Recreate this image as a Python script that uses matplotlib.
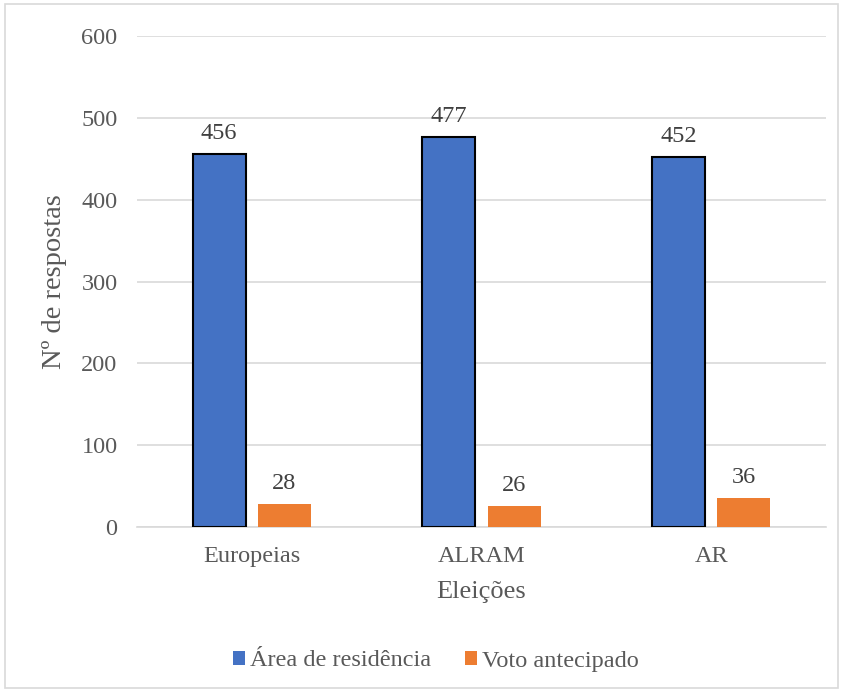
import matplotlib
matplotlib.use("Agg")
import matplotlib.pyplot as plt
import numpy as np
from matplotlib.patches import Rectangle

categories = ["Europeias", "ALRAM", "AR"]
area_residencia = [456, 477, 452]
voto_antecipado = [28, 26, 36]
series_names = ["Área de residência", "Voto antecipado"]
yticks = [0, 100, 200, 300, 400, 500, 600]

plt.rcParams['font.family'] = ['Liberation Serif', 'DejaVu Serif']
txt = '#595959'

fig = plt.figure(figsize=(8.44, 6.92), dpi=100)
ax = fig.add_axes([137/844, 1-527/692, (826-137)/844, (527-36)/692])

x = np.arange(len(categories))
w = 0.23
off = 0.142
b1 = ax.bar(x - off, area_residencia, w, color='#4472C4', edgecolor='black', linewidth=1.5, label=series_names[0], zorder=3)
b2 = ax.bar(x + off, voto_antecipado, w, color='#ED7D31', edgecolor='none', label=series_names[1], zorder=3)

for bars, vals in ((b1, area_residencia), (b2, voto_antecipado)):
    for r, v in zip(bars, vals):
        ax.annotate(str(v), (r.get_x() + r.get_width()/2, v), xytext=(0, 7), textcoords='offset points',
                    ha='center', va='bottom', fontsize=17.5, color='#404040')

ax.set_xlim(-0.5, 2.5)
ax.set_ylim(0, 600)
ax.set_yticks(yticks)
ax.set_xticks(x)
ax.set_xticklabels(categories)
ax.tick_params(axis='both', length=0, labelsize=17.5, colors=txt)
ax.tick_params(axis='y', pad=14)
ax.tick_params(axis='x', pad=14)
ax.grid(axis='y', color='#d9d9d9', linewidth=1.2, zorder=0)
for s in ['top', 'right', 'left']:
    ax.spines[s].set_visible(False)
ax.spines['bottom'].set_color('#d9d9d9')
ax.spines['bottom'].set_linewidth(1.2)

ax.set_xlabel("Eleições", fontsize=19, color=txt, labelpad=10)
ax.set_ylabel("Nº de respostas", fontsize=20.5, color=txt, labelpad=10)

leg = fig.legend(handles=[b1, b2], labels=series_names, loc='center', bbox_to_anchor=(436/844, 1-661/692),
                 ncol=2, frameon=False, fontsize=17.5, handlelength=0.5, handleheight=0.5,
                 handletextpad=0.2, columnspacing=1.4, labelcolor=txt)
for h in leg.legend_handles:
    h.set_edgecolor('none')

fig.add_artist(Rectangle((5/844, 4/692), 833/844, 684/692, transform=fig.transFigure,
                         fill=False, edgecolor='#d9d9d9', linewidth=1.2))

fig.savefig("out.png", dpi=100)
